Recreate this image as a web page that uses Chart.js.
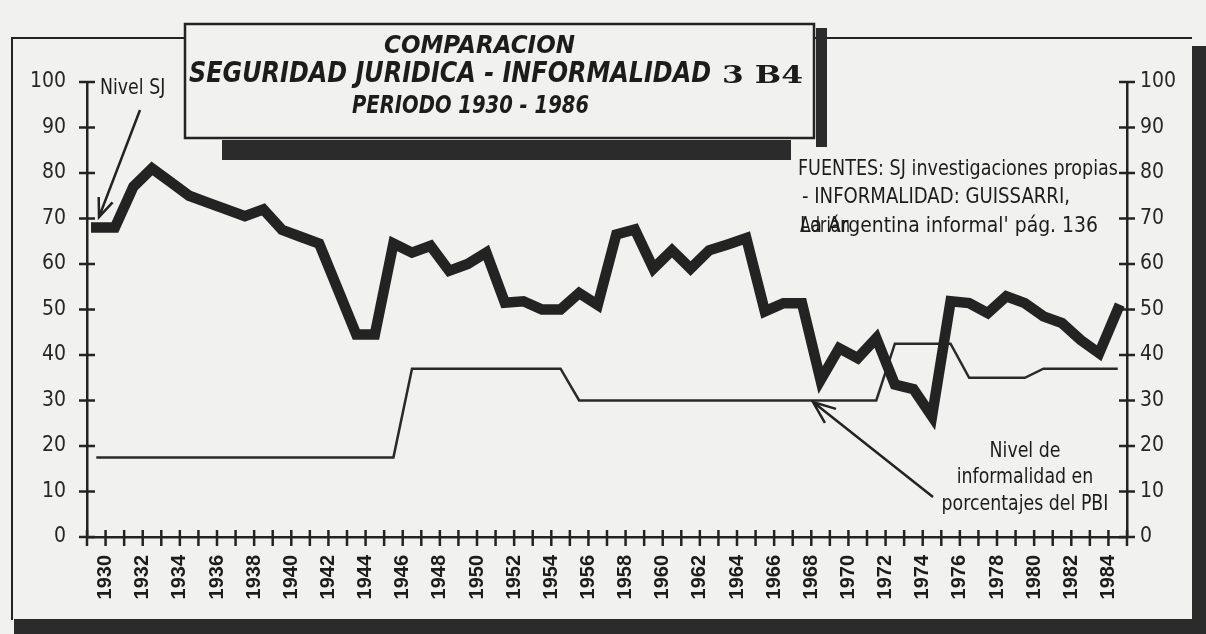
<!DOCTYPE html>
<html>
<head>
<meta charset="utf-8">
<script src="https://cdn.jsdelivr.net/npm/chart.js@4.4.0/dist/chart.umd.min.js"></script>
<style>
  html, body { margin: 0; padding: 0; background: #f1f1ef; }
  #wrap { width: 1206px; height: 634px; position: relative; }
</style>
</head>
<body>
<div id="wrap"><canvas id="chart"></canvas></div>
<script>
// one value per year, each point drawn in the middle of its year
const years = [1929, 1930, 1931, 1932, 1933, 1934, 1935, 1936, 1937, 1938,
  1939, 1940, 1941, 1942, 1943, 1944, 1945, 1946, 1947, 1948,
  1949, 1950, 1951, 1952, 1953, 1954, 1955, 1956, 1957, 1958,
  1959, 1960, 1961, 1962, 1963, 1964, 1965, 1966, 1967, 1968,
  1969, 1970, 1971, 1972, 1973, 1974, 1975, 1976, 1977, 1978,
  1979, 1980, 1981, 1982, 1983, 1984];

// Nivel SJ (thick line)
const nivelSJ = [68, 68, 77, 81, 78, 75, 73.5, 72, 70.5, 72,
  67.5, 66, 64.5, 54.5, 44.5, 44.5, 64.5, 62.5, 64, 58.5,
  60, 62.5, 51.5, 51.8, 50, 50, 53.6, 51, 66.5, 67.6,
  59, 63, 59, 63, 64.3, 65.7, 49.6, 51.4, 51.4, 34.5,
  41.5, 39.3, 43.7, 33.5, 32.5, 26.5, 51.8, 51.4, 49.2, 52.9,
  51.4, 48.5, 47, 43.3, 40.4, 50];

// informalidad en % del PBI (thin line)
const informalidad = [17.5, 17.5, 17.5, 17.5, 17.5, 17.5, 17.5, 17.5, 17.5, 17.5,
  17.5, 17.5, 17.5, 17.5, 17.5, 17.5, 17.5, 37, 37, 37,
  37, 37, 37, 37, 37, 37, 30, 30, 30, 30,
  30, 30, 30, 30, 30, 30, 30, 30, 30, 30,
  30, 30, 30, 42.5, 42.5, 42.5, 42.5, 35, 35, 35,
  35, 37, 37, 37, 37, 37];

const INK = '#232323';
const PAPER = '#f1f1ef';
const narrow = "'DejaVu Sans Condensed', 'Liberation Sans Narrow', sans-serif";

// draw text squeezed horizontally by sx (or fitted to a width)
function squeezed(ctx, str, x, y, font, sx, align, width) {
  ctx.save();
  ctx.font = font;
  if (width) sx = width / ctx.measureText(str).width;
  ctx.translate(x, y);
  ctx.scale(sx, 1);
  ctx.textAlign = align || 'left';
  ctx.textBaseline = 'middle';
  ctx.fillStyle = '#1c1c1c';
  ctx.fillText(str, 0, 0);
  ctx.restore();
}

function arrow(ctx, x1, y1, x2, y2, head) {
  const a = Math.atan2(y2 - y1, x2 - x1);
  ctx.beginPath();
  ctx.moveTo(x1, y1);
  ctx.lineTo(x2, y2);
  ctx.moveTo(x2 - head * Math.cos(a - 0.38), y2 - head * Math.sin(a - 0.38));
  ctx.lineTo(x2, y2);
  ctx.lineTo(x2 - head * Math.cos(a + 0.38), y2 - head * Math.sin(a + 0.38));
  ctx.stroke();
}

const paper = {
  id: 'paper',
  beforeDraw(chart) {
    const ctx = chart.ctx;
    ctx.save();
    ctx.fillStyle = PAPER;
    ctx.fillRect(0, 0, chart.width, chart.height);
    // outer frame with its heavy shadow
    ctx.strokeStyle = INK;
    ctx.lineWidth = 2;
    ctx.beginPath();
    ctx.moveTo(12, 620);
    ctx.lineTo(12, 38);
    ctx.lineTo(1192, 38);
    ctx.stroke();
    ctx.fillStyle = '#2b2b2b';
    ctx.fillRect(1192, 46, 14, 588);
    ctx.fillRect(14, 619, 1192, 15);
    ctx.restore();
  },
  afterDraw(chart) {
    const ctx = chart.ctx;
    const { x, y, y2 } = chart.scales;
    const area = chart.chartArea;
    ctx.save();
    ctx.strokeStyle = INK;
    ctx.lineWidth = 2.5;
    // tick marks crossing the axes
    ctx.beginPath();
    y.ticks.forEach(t => {
      const py = y.getPixelForValue(t.value);
      ctx.moveTo(area.left - 8, py);
      ctx.lineTo(area.left + 8, py);
    });
    y2.ticks.forEach(t => {
      const py = y2.getPixelForValue(t.value);
      ctx.moveTo(area.right - 8, py);
      ctx.lineTo(area.right + 8, py);
    });
    x.ticks.forEach(t => {
      const px = x.getPixelForValue(t.value);
      ctx.moveTo(px, area.bottom - 7);
      ctx.lineTo(px, area.bottom + 9);
    });
    ctx.stroke();

    // title box
    ctx.fillStyle = '#2b2b2b';
    ctx.fillRect(816, 28, 11, 119);
    ctx.fillRect(222, 140, 569, 20);
    ctx.fillStyle = PAPER;
    ctx.fillRect(185, 24, 629, 114);
    ctx.lineWidth = 2.5;
    ctx.strokeRect(185, 24, 629, 114);

    squeezed(ctx, 'COMPARACION', 384, 47, "italic bold 24px 'DejaVu Sans', sans-serif", 1, 'left', 191);
    squeezed(ctx, 'SEGURIDAD JURIDICA - INFORMALIDAD', 189, 75, "italic bold 28px 'DejaVu Sans', sans-serif", 1, 'left', 522);
    squeezed(ctx, 'PERIODO 1930 - 1986', 352, 106, "italic bold 25px 'DejaVu Sans', sans-serif", 1, 'left', 237);
    squeezed(ctx, '3 B4', 722, 76, "bold 25px 'DejaVu Serif', serif", 1, 'left', 81);

    // annotations, all in one condensed face
    const note = '21px ' + narrow;
    const sq = 0.92;
    squeezed(ctx, 'Nivel SJ', 100, 89, note, sq);
    squeezed(ctx, 'FUENTES: SJ investigaciones propias', 798, 170, note, 1, 'left', 320);
    squeezed(ctx, '- INFORMALIDAD: GUISSARRI,', 802, 198, note, 1, 'left', 268);
    squeezed(ctx, 'Adrián', 800, 227, note, 1, 'left', 50);
    squeezed(ctx, 'La Argentina informal\' pág. 136', 800, 227, note, 1, 'left', 298);
    squeezed(ctx, 'Nivel de', 1025, 452, note, sq, 'center');
    squeezed(ctx, 'informalidad en', 1025, 478, note, sq, 'center');
    squeezed(ctx, 'porcentajes del PBI', 1025, 505, note, sq, 'center');

    ctx.lineWidth = 2.5;
    arrow(ctx, 140, 110, 99, 217, 20);
    arrow(ctx, 933, 497, 813, 402, 24);
    ctx.restore();
  }
};

const tickFont = { family: narrow, size: 21 };

new Chart(document.getElementById('chart'), {
  type: 'line',
  data: {
    datasets: [
      {
        label: 'Nivel SJ',
        data: years.map((yr, i) => ({ x: yr + 0.5, y: nivelSJ[i] })),
        borderColor: '#232323',
        borderWidth: 10.5,
        borderJoinStyle: 'miter',
        borderCapStyle: 'square',
        pointRadius: 0,
        tension: 0,
        yAxisID: 'y'
      },
      {
        label: 'Nivel de informalidad',
        data: years.map((yr, i) => ({ x: yr + 0.5, y: informalidad[i] })),
        borderColor: '#2a2a2a',
        borderWidth: 2.5,
        pointRadius: 0,
        tension: 0,
        yAxisID: 'y2'
      }
    ]
  },
  options: {
    responsive: true,
    maintainAspectRatio: false,
    animation: false,
    layout: { padding: { top: 82, left: 0, right: 0, bottom: 0 } },
    plugins: {
      legend: { display: false },
      tooltip: { enabled: false }
    },
    scales: {
      x: {
        type: 'linear',
        min: 1929,
        max: 1985,
        grid: { display: false, drawTicks: false },
        border: { display: true, color: INK, width: 2.5 },
        ticks: {
          stepSize: 1,
          autoSkip: false,
          minRotation: 90,
          maxRotation: 90,
          padding: 18,
          color: '#1c1c1c',
          font: { family: "'Liberation Sans', Arial, sans-serif", size: 20, weight: 'bold' },
          callback: v => (v % 2 === 0 ? String(v) : '')
        },
        afterFit: s => { s.height = 97; }
      },
      y: {
        position: 'left',
        min: 0,
        max: 100,
        grid: { display: false, drawTicks: false },
        border: { display: true, color: INK, width: 2.5 },
        ticks: { stepSize: 10, padding: 21, color: '#262626', font: tickFont },
        afterFit: s => { s.width = 87; }
      },
      y2: {
        position: 'right',
        min: 0,
        max: 100,
        grid: { display: false, drawTicks: false },
        border: { display: true, color: INK, width: 2.5 },
        ticks: { stepSize: 10, padding: 13, color: '#262626', font: tickFont },
        afterFit: s => { s.width = 79; }
      }
    }
  },
  plugins: [paper]
});
</script>
</body>
</html>
